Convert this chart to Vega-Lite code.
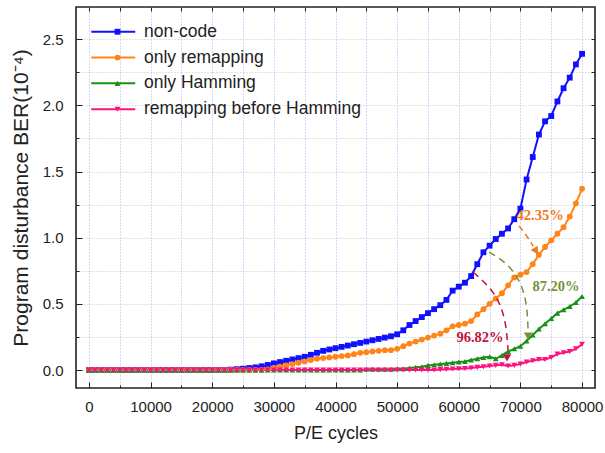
{
"$schema": "https://vega.github.io/schema/vega-lite/v6.json",
"width": 519, "height": 381,
"autosize": {"type": "none"},
"padding": {"left": 76, "top": 7, "right": 10, "bottom": 65},
"config": {
  "view": {"stroke": "#222", "strokeWidth": 1.6},
  "font": "Liberation Sans",
  "axis": {"labelFont": "Liberation Sans", "titleFont": "Liberation Sans", "labelColor": "#222", "titleColor": "#222", "tickColor": "#222", "titleFontWeight": "normal", "domain": false, "grid": false}
},
"datasets": {
"main": [
{"s":"non-code","x":0,"y":0},{"s":"non-code","x":1000,"y":0},{"s":"non-code","x":2000,"y":0},{"s":"non-code","x":3000,"y":0},{"s":"non-code","x":4000,"y":0},{"s":"non-code","x":5000,"y":0},{"s":"non-code","x":6000,"y":0},{"s":"non-code","x":7000,"y":0},{"s":"non-code","x":8000,"y":0},{"s":"non-code","x":9000,"y":0},{"s":"non-code","x":10000,"y":0},{"s":"non-code","x":11000,"y":0},{"s":"non-code","x":12000,"y":0},{"s":"non-code","x":13000,"y":0},{"s":"non-code","x":14000,"y":0},{"s":"non-code","x":15000,"y":0},{"s":"non-code","x":16000,"y":0},{"s":"non-code","x":17000,"y":0},{"s":"non-code","x":18000,"y":0},{"s":"non-code","x":19000,"y":0},{"s":"non-code","x":20000,"y":0},{"s":"non-code","x":21000,"y":0},{"s":"non-code","x":22000,"y":0},{"s":"non-code","x":23000,"y":0.003},{"s":"non-code","x":24000,"y":0.006},{"s":"non-code","x":25000,"y":0.01},{"s":"non-code","x":26000,"y":0.015},{"s":"non-code","x":27000,"y":0.02},{"s":"non-code","x":28000,"y":0.028},{"s":"non-code","x":29000,"y":0.038},{"s":"non-code","x":30000,"y":0.05},{"s":"non-code","x":31000,"y":0.06},{"s":"non-code","x":32000,"y":0.07},{"s":"non-code","x":33000,"y":0.08},{"s":"non-code","x":34000,"y":0.09},{"s":"non-code","x":35000,"y":0.1},{"s":"non-code","x":36000,"y":0.115},{"s":"non-code","x":37000,"y":0.13},{"s":"non-code","x":38000,"y":0.145},{"s":"non-code","x":39000,"y":0.155},{"s":"non-code","x":40000,"y":0.165},{"s":"non-code","x":41000,"y":0.175},{"s":"non-code","x":42000,"y":0.185},{"s":"non-code","x":43000,"y":0.195},{"s":"non-code","x":44000,"y":0.205},{"s":"non-code","x":45000,"y":0.215},{"s":"non-code","x":46000,"y":0.225},{"s":"non-code","x":47000,"y":0.235},{"s":"non-code","x":48000,"y":0.245},{"s":"non-code","x":49000,"y":0.255},{"s":"non-code","x":50000,"y":0.27},{"s":"non-code","x":51000,"y":0.3},{"s":"non-code","x":52000,"y":0.34},{"s":"non-code","x":53000,"y":0.37},{"s":"non-code","x":54000,"y":0.4},{"s":"non-code","x":55000,"y":0.43},{"s":"non-code","x":56000,"y":0.46},{"s":"non-code","x":57000,"y":0.49},{"s":"non-code","x":58000,"y":0.53},{"s":"non-code","x":59000,"y":0.6},{"s":"non-code","x":60000,"y":0.63},{"s":"non-code","x":61000,"y":0.66},{"s":"non-code","x":62000,"y":0.71},{"s":"non-code","x":63000,"y":0.8},{"s":"non-code","x":64000,"y":0.89},{"s":"non-code","x":65000,"y":0.94},{"s":"non-code","x":66000,"y":0.99},{"s":"non-code","x":67000,"y":1.03},{"s":"non-code","x":68000,"y":1.07},{"s":"non-code","x":69000,"y":1.14},{"s":"non-code","x":70000,"y":1.22},{"s":"non-code","x":71000,"y":1.44},{"s":"non-code","x":72000,"y":1.61},{"s":"non-code","x":73000,"y":1.78},{"s":"non-code","x":74000,"y":1.88},{"s":"non-code","x":75000,"y":1.92},{"s":"non-code","x":76000,"y":2.03},{"s":"non-code","x":77000,"y":2.13},{"s":"non-code","x":78000,"y":2.21},{"s":"non-code","x":79000,"y":2.31},{"s":"non-code","x":80000,"y":2.39},
{"s":"only remapping","x":0,"y":0},{"s":"only remapping","x":1000,"y":0},{"s":"only remapping","x":2000,"y":0},{"s":"only remapping","x":3000,"y":0},{"s":"only remapping","x":4000,"y":0},{"s":"only remapping","x":5000,"y":0},{"s":"only remapping","x":6000,"y":0},{"s":"only remapping","x":7000,"y":0},{"s":"only remapping","x":8000,"y":0},{"s":"only remapping","x":9000,"y":0},{"s":"only remapping","x":10000,"y":0},{"s":"only remapping","x":11000,"y":0},{"s":"only remapping","x":12000,"y":0},{"s":"only remapping","x":13000,"y":0},{"s":"only remapping","x":14000,"y":0},{"s":"only remapping","x":15000,"y":0},{"s":"only remapping","x":16000,"y":0},{"s":"only remapping","x":17000,"y":0},{"s":"only remapping","x":18000,"y":0},{"s":"only remapping","x":19000,"y":0},{"s":"only remapping","x":20000,"y":0},{"s":"only remapping","x":21000,"y":0},{"s":"only remapping","x":22000,"y":0},{"s":"only remapping","x":23000,"y":0},{"s":"only remapping","x":24000,"y":0},{"s":"only remapping","x":25000,"y":0},{"s":"only remapping","x":26000,"y":0},{"s":"only remapping","x":27000,"y":0},{"s":"only remapping","x":28000,"y":0},{"s":"only remapping","x":29000,"y":0.005},{"s":"only remapping","x":30000,"y":0.015},{"s":"only remapping","x":31000,"y":0.025},{"s":"only remapping","x":32000,"y":0.035},{"s":"only remapping","x":33000,"y":0.045},{"s":"only remapping","x":34000,"y":0.055},{"s":"only remapping","x":35000,"y":0.065},{"s":"only remapping","x":36000,"y":0.075},{"s":"only remapping","x":37000,"y":0.085},{"s":"only remapping","x":38000,"y":0.09},{"s":"only remapping","x":39000,"y":0.095},{"s":"only remapping","x":40000,"y":0.1},{"s":"only remapping","x":41000,"y":0.105},{"s":"only remapping","x":42000,"y":0.11},{"s":"only remapping","x":43000,"y":0.12},{"s":"only remapping","x":44000,"y":0.13},{"s":"only remapping","x":45000,"y":0.135},{"s":"only remapping","x":46000,"y":0.14},{"s":"only remapping","x":47000,"y":0.145},{"s":"only remapping","x":48000,"y":0.15},{"s":"only remapping","x":49000,"y":0.15},{"s":"only remapping","x":50000,"y":0.16},{"s":"only remapping","x":51000,"y":0.18},{"s":"only remapping","x":52000,"y":0.2},{"s":"only remapping","x":53000,"y":0.215},{"s":"only remapping","x":54000,"y":0.23},{"s":"only remapping","x":55000,"y":0.245},{"s":"only remapping","x":56000,"y":0.26},{"s":"only remapping","x":57000,"y":0.275},{"s":"only remapping","x":58000,"y":0.3},{"s":"only remapping","x":59000,"y":0.33},{"s":"only remapping","x":60000,"y":0.34},{"s":"only remapping","x":61000,"y":0.35},{"s":"only remapping","x":62000,"y":0.37},{"s":"only remapping","x":63000,"y":0.42},{"s":"only remapping","x":64000,"y":0.46},{"s":"only remapping","x":65000,"y":0.5},{"s":"only remapping","x":66000,"y":0.54},{"s":"only remapping","x":67000,"y":0.58},{"s":"only remapping","x":68000,"y":0.64},{"s":"only remapping","x":69000,"y":0.7},{"s":"only remapping","x":70000,"y":0.72},{"s":"only remapping","x":71000,"y":0.74},{"s":"only remapping","x":72000,"y":0.8},{"s":"only remapping","x":73000,"y":0.87},{"s":"only remapping","x":74000,"y":0.93},{"s":"only remapping","x":75000,"y":0.98},{"s":"only remapping","x":76000,"y":1.03},{"s":"only remapping","x":77000,"y":1.08},{"s":"only remapping","x":78000,"y":1.16},{"s":"only remapping","x":79000,"y":1.26},{"s":"only remapping","x":80000,"y":1.37},
{"s":"only Hamming","x":0,"y":0},{"s":"only Hamming","x":1000,"y":0},{"s":"only Hamming","x":2000,"y":0},{"s":"only Hamming","x":3000,"y":0},{"s":"only Hamming","x":4000,"y":0},{"s":"only Hamming","x":5000,"y":0},{"s":"only Hamming","x":6000,"y":0},{"s":"only Hamming","x":7000,"y":0},{"s":"only Hamming","x":8000,"y":0},{"s":"only Hamming","x":9000,"y":0},{"s":"only Hamming","x":10000,"y":0},{"s":"only Hamming","x":11000,"y":0},{"s":"only Hamming","x":12000,"y":0},{"s":"only Hamming","x":13000,"y":0},{"s":"only Hamming","x":14000,"y":0},{"s":"only Hamming","x":15000,"y":0},{"s":"only Hamming","x":16000,"y":0},{"s":"only Hamming","x":17000,"y":0},{"s":"only Hamming","x":18000,"y":0},{"s":"only Hamming","x":19000,"y":0},{"s":"only Hamming","x":20000,"y":0},{"s":"only Hamming","x":21000,"y":0},{"s":"only Hamming","x":22000,"y":0},{"s":"only Hamming","x":23000,"y":0},{"s":"only Hamming","x":24000,"y":0},{"s":"only Hamming","x":25000,"y":0},{"s":"only Hamming","x":26000,"y":0},{"s":"only Hamming","x":27000,"y":0},{"s":"only Hamming","x":28000,"y":0},{"s":"only Hamming","x":29000,"y":0},{"s":"only Hamming","x":30000,"y":0},{"s":"only Hamming","x":31000,"y":0},{"s":"only Hamming","x":32000,"y":0},{"s":"only Hamming","x":33000,"y":0},{"s":"only Hamming","x":34000,"y":0},{"s":"only Hamming","x":35000,"y":0},{"s":"only Hamming","x":36000,"y":0},{"s":"only Hamming","x":37000,"y":0},{"s":"only Hamming","x":38000,"y":0},{"s":"only Hamming","x":39000,"y":0},{"s":"only Hamming","x":40000,"y":0},{"s":"only Hamming","x":41000,"y":0},{"s":"only Hamming","x":42000,"y":0},{"s":"only Hamming","x":43000,"y":0},{"s":"only Hamming","x":44000,"y":0},{"s":"only Hamming","x":45000,"y":0.005},{"s":"only Hamming","x":46000,"y":0.005},{"s":"only Hamming","x":47000,"y":0.005},{"s":"only Hamming","x":48000,"y":0.005},{"s":"only Hamming","x":49000,"y":0.005},{"s":"only Hamming","x":50000,"y":0.01},{"s":"only Hamming","x":51000,"y":0.01},{"s":"only Hamming","x":52000,"y":0.015},{"s":"only Hamming","x":53000,"y":0.02},{"s":"only Hamming","x":54000,"y":0.025},{"s":"only Hamming","x":55000,"y":0.035},{"s":"only Hamming","x":56000,"y":0.04},{"s":"only Hamming","x":57000,"y":0.045},{"s":"only Hamming","x":58000,"y":0.05},{"s":"only Hamming","x":59000,"y":0.055},{"s":"only Hamming","x":60000,"y":0.06},{"s":"only Hamming","x":61000,"y":0.065},{"s":"only Hamming","x":62000,"y":0.075},{"s":"only Hamming","x":63000,"y":0.085},{"s":"only Hamming","x":64000,"y":0.095},{"s":"only Hamming","x":65000,"y":0.1},{"s":"only Hamming","x":66000,"y":0.085},{"s":"only Hamming","x":67000,"y":0.11},{"s":"only Hamming","x":68000,"y":0.14},{"s":"only Hamming","x":69000,"y":0.16},{"s":"only Hamming","x":70000,"y":0.18},{"s":"only Hamming","x":71000,"y":0.22},{"s":"only Hamming","x":72000,"y":0.265},{"s":"only Hamming","x":73000,"y":0.31},{"s":"only Hamming","x":74000,"y":0.35},{"s":"only Hamming","x":75000,"y":0.39},{"s":"only Hamming","x":76000,"y":0.43},{"s":"only Hamming","x":77000,"y":0.455},{"s":"only Hamming","x":78000,"y":0.48},{"s":"only Hamming","x":79000,"y":0.51},{"s":"only Hamming","x":80000,"y":0.555},
{"s":"remapping before Hamming","x":0,"y":0},{"s":"remapping before Hamming","x":1000,"y":0},{"s":"remapping before Hamming","x":2000,"y":0},{"s":"remapping before Hamming","x":3000,"y":0},{"s":"remapping before Hamming","x":4000,"y":0},{"s":"remapping before Hamming","x":5000,"y":0},{"s":"remapping before Hamming","x":6000,"y":0},{"s":"remapping before Hamming","x":7000,"y":0},{"s":"remapping before Hamming","x":8000,"y":0},{"s":"remapping before Hamming","x":9000,"y":0},{"s":"remapping before Hamming","x":10000,"y":0},{"s":"remapping before Hamming","x":11000,"y":0},{"s":"remapping before Hamming","x":12000,"y":0},{"s":"remapping before Hamming","x":13000,"y":0},{"s":"remapping before Hamming","x":14000,"y":0},{"s":"remapping before Hamming","x":15000,"y":0},{"s":"remapping before Hamming","x":16000,"y":0},{"s":"remapping before Hamming","x":17000,"y":0},{"s":"remapping before Hamming","x":18000,"y":0},{"s":"remapping before Hamming","x":19000,"y":0},{"s":"remapping before Hamming","x":20000,"y":0},{"s":"remapping before Hamming","x":21000,"y":0},{"s":"remapping before Hamming","x":22000,"y":0},{"s":"remapping before Hamming","x":23000,"y":0},{"s":"remapping before Hamming","x":24000,"y":0},{"s":"remapping before Hamming","x":25000,"y":0},{"s":"remapping before Hamming","x":26000,"y":0},{"s":"remapping before Hamming","x":27000,"y":0},{"s":"remapping before Hamming","x":28000,"y":0},{"s":"remapping before Hamming","x":29000,"y":0},{"s":"remapping before Hamming","x":30000,"y":0},{"s":"remapping before Hamming","x":31000,"y":0},{"s":"remapping before Hamming","x":32000,"y":0},{"s":"remapping before Hamming","x":33000,"y":0},{"s":"remapping before Hamming","x":34000,"y":0},{"s":"remapping before Hamming","x":35000,"y":0},{"s":"remapping before Hamming","x":36000,"y":0},{"s":"remapping before Hamming","x":37000,"y":0},{"s":"remapping before Hamming","x":38000,"y":0},{"s":"remapping before Hamming","x":39000,"y":0},{"s":"remapping before Hamming","x":40000,"y":0},{"s":"remapping before Hamming","x":41000,"y":0},{"s":"remapping before Hamming","x":42000,"y":0},{"s":"remapping before Hamming","x":43000,"y":0},{"s":"remapping before Hamming","x":44000,"y":0},{"s":"remapping before Hamming","x":45000,"y":0},{"s":"remapping before Hamming","x":46000,"y":0},{"s":"remapping before Hamming","x":47000,"y":0},{"s":"remapping before Hamming","x":48000,"y":0},{"s":"remapping before Hamming","x":49000,"y":0},{"s":"remapping before Hamming","x":50000,"y":0},{"s":"remapping before Hamming","x":51000,"y":0},{"s":"remapping before Hamming","x":52000,"y":0},{"s":"remapping before Hamming","x":53000,"y":0},{"s":"remapping before Hamming","x":54000,"y":0},{"s":"remapping before Hamming","x":55000,"y":0},{"s":"remapping before Hamming","x":56000,"y":0},{"s":"remapping before Hamming","x":57000,"y":0.003},{"s":"remapping before Hamming","x":58000,"y":0.005},{"s":"remapping before Hamming","x":59000,"y":0.007},{"s":"remapping before Hamming","x":60000,"y":0.01},{"s":"remapping before Hamming","x":61000,"y":0.012},{"s":"remapping before Hamming","x":62000,"y":0.015},{"s":"remapping before Hamming","x":63000,"y":0.02},{"s":"remapping before Hamming","x":64000,"y":0.025},{"s":"remapping before Hamming","x":65000,"y":0.03},{"s":"remapping before Hamming","x":66000,"y":0.035},{"s":"remapping before Hamming","x":67000,"y":0.04},{"s":"remapping before Hamming","x":68000,"y":0.03},{"s":"remapping before Hamming","x":69000,"y":0.035},{"s":"remapping before Hamming","x":70000,"y":0.045},{"s":"remapping before Hamming","x":71000,"y":0.06},{"s":"remapping before Hamming","x":72000,"y":0.07},{"s":"remapping before Hamming","x":73000,"y":0.08},{"s":"remapping before Hamming","x":74000,"y":0.08},{"s":"remapping before Hamming","x":75000,"y":0.095},{"s":"remapping before Hamming","x":76000,"y":0.12},{"s":"remapping before Hamming","x":77000,"y":0.13},{"s":"remapping before Hamming","x":78000,"y":0.14},{"s":"remapping before Hamming","x":79000,"y":0.16},{"s":"remapping before Hamming","x":80000,"y":0.195}
]
},
"layer": [
{
  "data": {"name": "main"},
  "mark": {"type": "line", "strokeWidth": 2},
  "encoding": {
    "x": {"field": "x", "type": "quantitative", "scale": {"domain": [-2100, 82100], "nice": false, "zero": false},
      "axis": {"orient": "top", "values": [0,5000,10000,15000,20000,25000,30000,35000,40000,45000,50000,55000,60000,65000,70000,75000,80000], "labels": false, "tickSize": -4, "grid": true, "gridColor": "#a8acff", "gridDash": [1,2], "gridWidth": 1, "title": null}},
    "y": {"field": "y", "type": "quantitative", "scale": {"domain": [-0.136, 2.744], "nice": false, "zero": false},
      "axis": {"orient": "right", "values": [0,0.25,0.5,0.75,1,1.25,1.5,1.75,2,2.25,2.5], "labels": false, "tickSize": -4, "grid": true, "gridColor": "#c4c4c4", "gridDash": [1,2], "gridWidth": 1, "title": null}},
    "color": {"field": "s", "type": "nominal",
      "scale": {"domain": ["non-code","only remapping","only Hamming","remapping before Hamming"], "range": ["#1010ff","#ff8519","#189018","#ff1080"]},
      "legend": {"orient": "none", "legendX": 28.5, "legendY": 16, "title": null, "padding": 0, "symbolType": "M-11,0H11", "symbolSize": 16, "symbolStrokeWidth": 2, "labelOffset": 22, "labelFont": "Liberation Sans", "labelFontSize": 17.5, "labelColor": "#222", "labelLimit": 400, "rowPadding": 6.8}}
  }
},
{
  "data": {"name": "main"},
  "mark": {"type": "point", "filled": true, "size": 34, "opacity": 1},
  "encoding": {
    "x": {"field": "x", "type": "quantitative", "scale": {"domain": [-2100, 82100], "nice": false, "zero": false},
      "axis": {"orient": "bottom", "values": [0,10000,20000,30000,40000,50000,60000,70000,80000], "format": "d", "tickSize": -6, "labelPadding": 17, "labelFontSize": 15, "title": "P/E cycles", "titleFontSize": 18, "titlePadding": 10}},
    "y": {"field": "y", "type": "quantitative", "scale": {"domain": [-0.136, 2.744], "nice": false, "zero": false},
      "axis": {"orient": "left", "values": [0,0.5,1,1.5,2,2.5], "format": ".1f", "tickSize": -6, "labelPadding": 19, "labelFontSize": 15, "title": "Program disturbance BER(10⁻⁴)", "titleFontSize": 21, "titlePadding": 11}},
    "color": {"field": "s", "type": "nominal",
      "scale": {"domain": ["non-code","only remapping","only Hamming","remapping before Hamming"], "range": ["#1010ff","#ff8519","#189018","#ff1080"]},
      "legend": {"orient": "none", "legendX": 32.75, "legendY": 16, "title": null, "padding": 0, "symbolSize": 34, "labelFontSize": 17.5, "labelExpr": "''", "rowPadding": 6.8}},
    "shape": {"field": "s", "type": "nominal",
      "scale": {"domain": ["non-code","only remapping","only Hamming","remapping before Hamming"], "range": ["square","circle","triangle-up","triangle-down"]},
      "legend": {"orient": "none", "legendX": 32.75, "legendY": 16, "title": null, "padding": 0, "symbolSize": 34, "labelFontSize": 17.5, "labelExpr": "''", "rowPadding": 6.8}}
  }
},
{
  "data": {"values": [{"t": "42.35%", "x": 73190, "y": 1.164}]},
  "mark": {"type": "text", "font": "Liberation Serif", "fontWeight": "bold", "fontSize": 14.5, "color": "#f07818"},
  "encoding": {
    "x": {"field": "x", "type": "quantitative", "scale": {"domain": [-2100, 82100], "nice": false, "zero": false},
      "axis": {"orient": "bottom", "values": [5000,15000,25000,35000,45000,55000,65000,75000], "labels": false, "tickSize": -3, "title": null}},
    "y": {"field": "y", "type": "quantitative", "scale": {"domain": [-0.136, 2.744], "nice": false, "zero": false},
      "axis": {"orient": "left", "values": [0.25,0.75,1.25,1.75,2.25], "labels": false, "tickSize": -3, "title": null}},
    "text": {"field": "t"}
  }
},
{
  "data": {"values": [{"t": "87.20%", "x": 75780, "y": 0.627}]},
  "mark": {"type": "text", "font": "Liberation Serif", "fontWeight": "bold", "fontSize": 14.5, "color": "#76923c"},
  "encoding": {
    "x": {"field": "x", "type": "quantitative", "scale": {"domain": [-2100, 82100], "nice": false, "zero": false}, "axis": null},
    "y": {"field": "y", "type": "quantitative", "scale": {"domain": [-0.136, 2.744], "nice": false, "zero": false}, "axis": null},
    "text": {"field": "t"}
  }
},
{
  "data": {"values": [{"t": "96.82%", "x": 63450, "y": 0.242}]},
  "mark": {"type": "text", "font": "Liberation Serif", "fontWeight": "bold", "fontSize": 14.5, "color": "#c0143c"},
  "encoding": {
    "x": {"field": "x", "type": "quantitative", "scale": {"domain": [-2100, 82100], "nice": false, "zero": false}, "axis": null},
    "y": {"field": "y", "type": "quantitative", "scale": {"domain": [-0.136, 2.744], "nice": false, "zero": false}, "axis": null},
    "text": {"field": "t"}
  }
},
{
  "data": {"values": [{"o": 1, "x": 69777, "y": 1.088}, {"o": 2, "x": 71075, "y": 1.013}, {"o": 3, "x": 72049, "y": 0.937}]},
  "mark": {"type": "line", "color": "#f07818", "strokeWidth": 1.5, "strokeDash": [6, 4], "interpolate": "basis"},
  "encoding": {
    "x": {"field": "x", "type": "quantitative", "scale": {"domain": [-2100, 82100], "nice": false, "zero": false}, "axis": null},
    "y": {"field": "y", "type": "quantitative", "scale": {"domain": [-0.136, 2.744], "nice": false, "zero": false}, "axis": null},
    "order": {"field": "o"}
  }
},
{
  "data": {"values": [{"o": 1, "x": 64910, "y": 0.892}, {"o": 2, "x": 67830, "y": 0.809}, {"o": 3, "x": 69940, "y": 0.68}, {"o": 4, "x": 71080, "y": 0.506}, {"o": 5, "x": 71240, "y": 0.30}]},
  "mark": {"type": "line", "color": "#76923c", "strokeWidth": 1.5, "strokeDash": [7, 5], "interpolate": "basis"},
  "encoding": {
    "x": {"field": "x", "type": "quantitative", "scale": {"domain": [-2100, 82100], "nice": false, "zero": false}, "axis": null},
    "y": {"field": "y", "type": "quantitative", "scale": {"domain": [-0.136, 2.744], "nice": false, "zero": false}, "axis": null},
    "order": {"field": "o"}
  }
},
{
  "data": {"values": [{"o": 1, "x": 62310, "y": 0.741}, {"o": 2, "x": 65070, "y": 0.627}, {"o": 3, "x": 66690, "y": 0.506}, {"o": 4, "x": 67670, "y": 0.355}, {"o": 5, "x": 67990, "y": 0.15}]},
  "mark": {"type": "line", "color": "#c0143c", "strokeWidth": 1.5, "strokeDash": [7, 5], "interpolate": "basis"},
  "encoding": {
    "x": {"field": "x", "type": "quantitative", "scale": {"domain": [-2100, 82100], "nice": false, "zero": false}, "axis": null},
    "y": {"field": "y", "type": "quantitative", "scale": {"domain": [-0.136, 2.744], "nice": false, "zero": false}, "axis": null},
    "order": {"field": "o"}
  }
},
{
  "data": {"values": [{"x": 72535, "y": 0.899}]},
  "mark": {"type": "point", "shape": "triangle-down", "filled": true, "size": 70, "angle": 330, "color": "#f07818", "opacity": 1},
  "encoding": {
    "x": {"field": "x", "type": "quantitative", "scale": {"domain": [-2100, 82100], "nice": false, "zero": false}, "axis": null},
    "y": {"field": "y", "type": "quantitative", "scale": {"domain": [-0.136, 2.744], "nice": false, "zero": false}, "axis": null}
  }
},
{
  "data": {"values": [{"x": 71240, "y": 0.257}]},
  "mark": {"type": "point", "shape": "triangle-down", "filled": true, "size": 70, "color": "#76923c", "opacity": 1},
  "encoding": {
    "x": {"field": "x", "type": "quantitative", "scale": {"domain": [-2100, 82100], "nice": false, "zero": false}, "axis": null},
    "y": {"field": "y", "type": "quantitative", "scale": {"domain": [-0.136, 2.744], "nice": false, "zero": false}, "axis": null}
  }
},
{
  "data": {"values": [{"x": 67830, "y": 0.091}]},
  "mark": {"type": "point", "shape": "triangle-down", "filled": true, "size": 70, "color": "#c0143c", "opacity": 1},
  "encoding": {
    "x": {"field": "x", "type": "quantitative", "scale": {"domain": [-2100, 82100], "nice": false, "zero": false}, "axis": null},
    "y": {"field": "y", "type": "quantitative", "scale": {"domain": [-0.136, 2.744], "nice": false, "zero": false}, "axis": null}
  }
}
],
"resolve": {"axis": {"x": "independent", "y": "independent"}, "legend": {"color": "independent", "shape": "independent"}}
}
